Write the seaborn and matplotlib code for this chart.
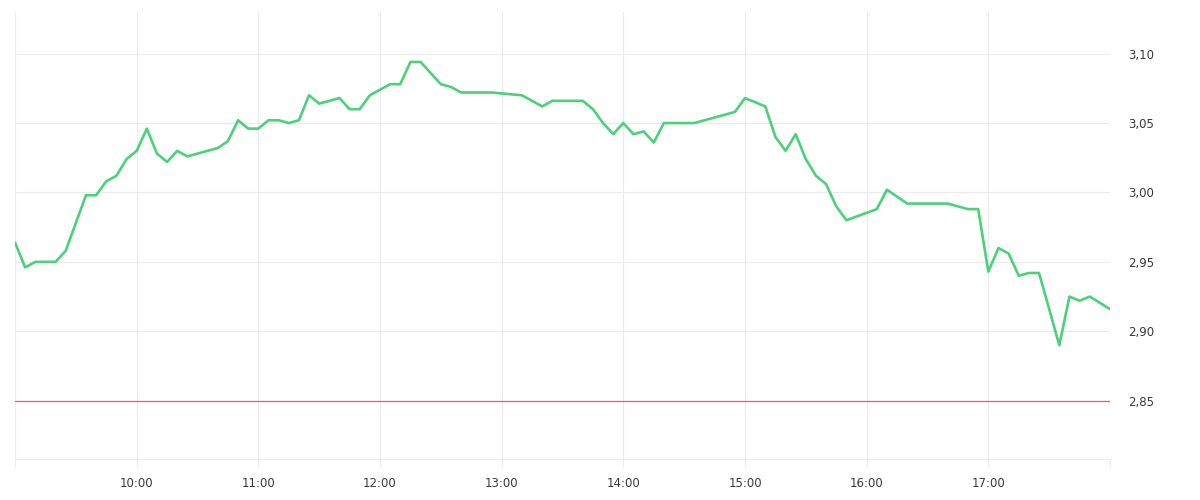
import pandas as pd
import matplotlib
matplotlib.use("Agg")
import matplotlib.pyplot as plt
from matplotlib.ticker import FuncFormatter
import seaborn as sns

# intraday price (vertices of the line)
times = ["09:00", "09:05", "09:10", "09:20", "09:25", "09:35", "09:40", "09:45",
         "09:50", "09:55", "10:00", "10:05", "10:10", "10:15", "10:20", "10:25",
         "10:40", "10:45", "10:50", "10:55", "11:00", "11:05", "11:10", "11:15",
         "11:20", "11:25", "11:30", "11:40", "11:45", "11:50", "11:55", "12:05",
         "12:10", "12:15", "12:20", "12:30", "12:35", "12:40", "12:55", "13:10",
         "13:20", "13:25", "13:40", "13:45", "13:50", "13:55", "14:00", "14:05",
         "14:10", "14:15", "14:20", "14:35", "14:55", "15:00", "15:10", "15:15",
         "15:20", "15:25", "15:30", "15:35", "15:40", "15:45", "15:50", "16:05",
         "16:10", "16:20", "16:40", "16:50", "16:55", "17:00", "17:05", "17:10",
         "17:15", "17:20", "17:25", "17:35", "17:40", "17:45", "17:50", "18:00"]
prices = [2.964, 2.946, 2.950, 2.950, 2.958, 2.998, 2.998, 3.008,
          3.012, 3.024, 3.030, 3.046, 3.028, 3.022, 3.030, 3.026,
          3.032, 3.037, 3.052, 3.046, 3.046, 3.052, 3.052, 3.050,
          3.052, 3.070, 3.064, 3.068, 3.060, 3.060, 3.070, 3.078,
          3.078, 3.094, 3.094, 3.078, 3.076, 3.072, 3.072, 3.070,
          3.062, 3.066, 3.066, 3.060, 3.050, 3.042, 3.050, 3.042,
          3.044, 3.036, 3.050, 3.050, 3.058, 3.068, 3.062, 3.040,
          3.030, 3.042, 3.024, 3.012, 3.006, 2.990, 2.980, 2.988,
          3.002, 2.992, 2.992, 2.988, 2.988, 2.943, 2.960, 2.956,
          2.940, 2.942, 2.942, 2.890, 2.925, 2.922, 2.925, 2.916]
ref_price = 2.85
hour_ticks = ["09:00", "10:00", "11:00", "12:00", "13:00", "14:00",
              "15:00", "16:00", "17:00", "18:00"]
price_ticks = [2.85, 2.90, 2.95, 3.00, 3.05, 3.10]

day = "2024-01-02 "
df = pd.DataFrame({"time": pd.to_datetime([day + t for t in times]),
                   "price": prices})
hours = pd.to_datetime([day + t for t in hour_ticks])

sns.set_style("white")
plt.rcParams["font.family"] = ["DejaVu Sans"]

fig = plt.figure(figsize=(12, 5), dpi=100)
ax = fig.add_axes([0.0125, 0.082, 0.9125, 0.894])

grid_c = "#ebebeb"
ax.axhline(ref_price, color="#ff5757", lw=0.9, zorder=2)
sns.lineplot(data=df, x="time", y="price", color="#4cd17b", lw=1.9, ax=ax, zorder=3)

ax.set_xlim(hours[0], hours[-1])
ax.set_ylim(2.808, 3.130)
ax.set_xticks(hours)
ax.set_xticklabels([""] + hour_ticks[1:-1] + [""])
ax.set_yticks(price_ticks)
ax.yaxis.set_major_formatter(FuncFormatter(lambda v, p: f"{v:.2f}".replace(".", ",")))
ax.yaxis.tick_right()

ax.grid(True, color=grid_c, lw=0.8)
ax.set_axisbelow(True)
for s in ["top", "left", "right"]:
    ax.spines[s].set_visible(False)
ax.spines["bottom"].set_color(grid_c)
ax.spines["bottom"].set_linewidth(0.8)

ax.tick_params(axis="x", length=6, width=0.8, color=grid_c, pad=7,
               labelsize=8.5, labelcolor="#3a3a3a", bottom=True)
ax.tick_params(axis="y", length=0, pad=13, labelsize=8.5, labelcolor="#3a3a3a")
ax.set_xlabel("")
ax.set_ylabel("")

fig.savefig("out.png", dpi=100)
